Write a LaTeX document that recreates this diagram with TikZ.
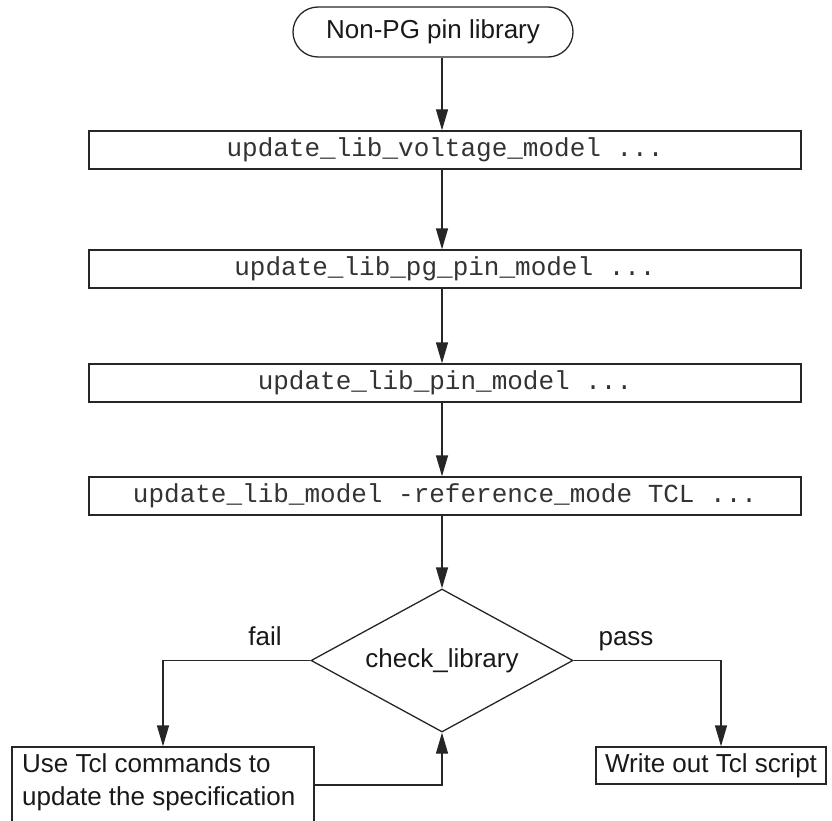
\documentclass[tikz,border=0pt]{standalone}
\usepackage{fontspec}
\setmainfont{Liberation Sans}
\setmonofont{Liberation Mono}
\usetikzlibrary{arrows.meta,shapes.geometric}
\begin{document}
\begin{tikzpicture}[x=1pt,y=-1pt,
  every node/.style={font=\fontsize{26}{33}\selectfont, text=black!90},
  line/.style={draw=black!85, line width=1.3pt},
  arr/.style={line, -{Triangle[length=21pt,width=12pt]}},
  cmdbox/.style={line, rectangle, minimum width=712pt, minimum height=38pt, inner sep=0pt,
     font=\fontsize{26}{33}\selectfont\ttfamily, text=black!80},
  termbox/.style={line, rectangle, rounded corners=25pt, minimum width=280pt, minimum height=50pt, inner sep=0pt},
  decide/.style={line, diamond, aspect=1.83, minimum width=262pt, minimum height=143pt, inner sep=0pt},
  endbox/.style={line, rectangle, inner sep=0pt}
]
\useasboundingbox (0,0) rectangle (832,821);
\coordinate (spine) at (442,0);
\coordinate (passx) at (721,0);

\node[termbox] (term) at (433,32) {Non-PG pin library};
\node[cmdbox] (b1) at (445,150) {update\_lib\_voltage\_model ...};
\node[cmdbox] (b2) at (445,269) {update\_lib\_pg\_pin\_model ...};
\node[cmdbox] (b3) at (445,383) {update\_lib\_pin\_model ...};
\node[cmdbox] (b4) at (445,496) {update\_lib\_model -reference\_mode TCL ...};
\node[decide] (dia) at (442,660.5) {check\_library};

\node[endbox, minimum width=302pt, minimum height=76pt] (lbox) at (163,785) {};
\node[anchor=base west, inner sep=0pt] (l1) at (22,772) {Use Tcl commands to};
\node[anchor=base west, inner sep=0pt] (l2) at (22,805) {update the specification};

\node[endbox, minimum width=230pt, minimum height=37pt] (rbox) at (711,765.5) {Write out Tcl script};

\node[anchor=base, inner sep=0pt] (fail) at (265,645) {fail};
\node[anchor=base, inner sep=0pt] (pass) at (626,645) {pass};

\draw[arr] (term.south -| spine) -- (b1.north -| spine);
\draw[arr] (b1.south -| spine) -- (b2.north -| spine);
\draw[arr] (b2.south -| spine) -- (b3.north -| spine);
\draw[arr] (b3.south -| spine) -- (b4.north -| spine);
\draw[arr] (b4.south -| spine) -- (dia.north);
\draw[arr] (dia.west) -| (lbox.north);
\draw[arr] (dia.east) -| (passx |- rbox.north);
\draw[arr] (lbox.east) -| (dia.south);
\end{tikzpicture}
\end{document}
